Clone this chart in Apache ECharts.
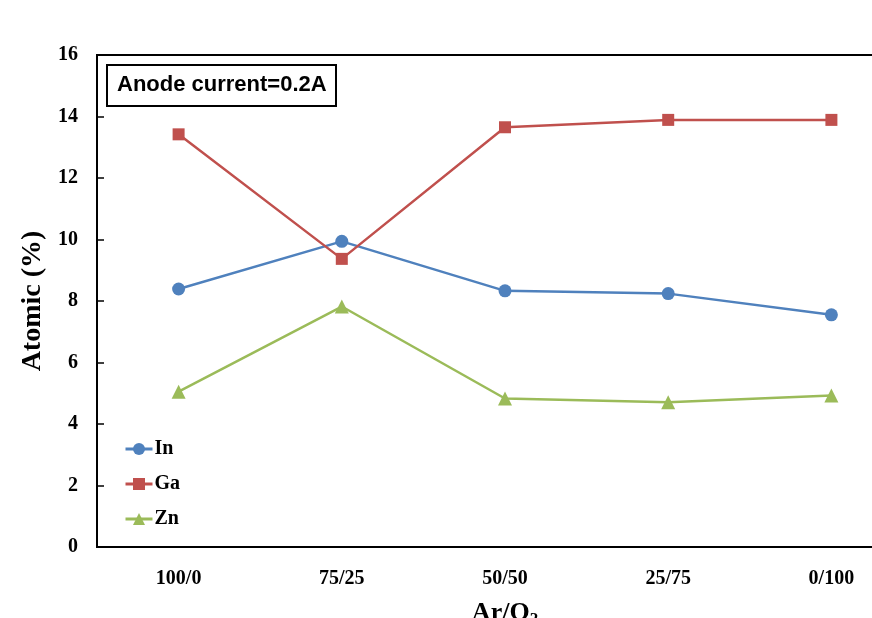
<!DOCTYPE html>
<html>
<head>
<meta charset="utf-8">
<script src="https://cdn.jsdelivr.net/npm/echarts@6/dist/echarts.min.js"></script>
<style>html,body{margin:0;padding:0;background:#fff}#c{width:872px;height:618px}</style>
</head>
<body>
<div id="c"></div>
<script>
var categories = ['100/0', '75/25', '50/50', '25/75', '0/100'];
var inValues = [8.39, 9.94, 8.33, 8.24, 7.55];
var gaValues = [13.42, 9.37, 13.65, 13.89, 13.89];
var znValues = [5.05, 7.82, 4.83, 4.71, 4.93];
var yTicks = [0, 2, 4, 6, 8, 10, 12, 14, 16];

var chart = echarts.init(document.getElementById('c'));
var serif = '"Liberation Serif", "Times New Roman", serif';
var labelStyle = {fontFamily: serif, fontWeight: 'bold', fontSize: 20, color: '#000'};
chart.setOption({
  animation: false,
  backgroundColor: '#fff',
  title: {
    text: 'Anode current=0.2A',
    left: 107, top: 65,
    padding: [9, 10, 10, 10],
    borderColor: '#000', borderWidth: 2,
    textStyle: {fontFamily: '"Liberation Sans", Arial, sans-serif', fontWeight: 'bold', fontSize: 22, color: '#000'}
  },
  grid: {left: 97, right: -41, top: 55, bottom: 71, containLabel: false, outerBoundsMode: 'none',
         show: true, borderColor: '#000', borderWidth: 2, backgroundColor: 'transparent'},
  legend: {
    orient: 'vertical', left: 119, top: 434, itemGap: 15, itemWidth: 27, itemHeight: 15,
    lineStyle: {width: 3},
    textStyle: {fontFamily: serif, fontWeight: 'bold', fontSize: 20, color: '#000', padding: [0, 0, 0, -3]},
    data: ['In', 'Ga', 'Zn']
  },
  xAxis: {
    type: 'category', data: categories, boundaryGap: true,
    name: 'Ar/O{sub|2}', nameLocation: 'middle', nameGap: 52,
    nameTextStyle: {fontFamily: serif, fontWeight: 'bold', fontSize: 26, color: '#000',
      rich: {sub: {fontFamily: serif, fontWeight: 'bold', fontSize: 17, color: '#000', verticalAlign: 'bottom', padding: [12, 0, 0, 0]}}},
    axisLine: {lineStyle: {color: '#000', width: 2}},
    axisTick: {inside: true, length: 6, lineStyle: {color: '#000', width: 1.5}},
    axisLabel: Object.assign({margin: 22}, labelStyle),
    splitLine: {show: false}
  },
  yAxis: {
    type: 'value', min: yTicks[0], max: yTicks[yTicks.length - 1], interval: 2,
    name: 'Atomic (%)', nameLocation: 'middle', nameGap: 38,
    nameTextStyle: {fontFamily: serif, fontWeight: 'bold', fontSize: 28, color: '#000'},
    axisLine: {show: true, lineStyle: {color: '#000', width: 2}},
    axisTick: {show: true, inside: true, length: 7, lineStyle: {color: '#000', width: 1.5}},
    axisLabel: Object.assign({margin: 19}, labelStyle),
    splitLine: {show: false}
  },
  series: [
    {name: 'In', type: 'line', data: inValues, symbol: 'circle', symbolSize: 13,
     itemStyle: {color: '#4F81BD'}, lineStyle: {color: '#4F81BD', width: 2.5}},
    {name: 'Ga', type: 'line', data: gaValues, symbol: 'rect', symbolSize: 12,
     itemStyle: {color: '#C0504D'}, lineStyle: {color: '#C0504D', width: 2.5}},
    {name: 'Zn', type: 'line', data: znValues, symbol: 'triangle', symbolSize: 14,
     itemStyle: {color: '#9BBB59'}, lineStyle: {color: '#9BBB59', width: 2.5}}
  ]
});
</script>
</body>
</html>
